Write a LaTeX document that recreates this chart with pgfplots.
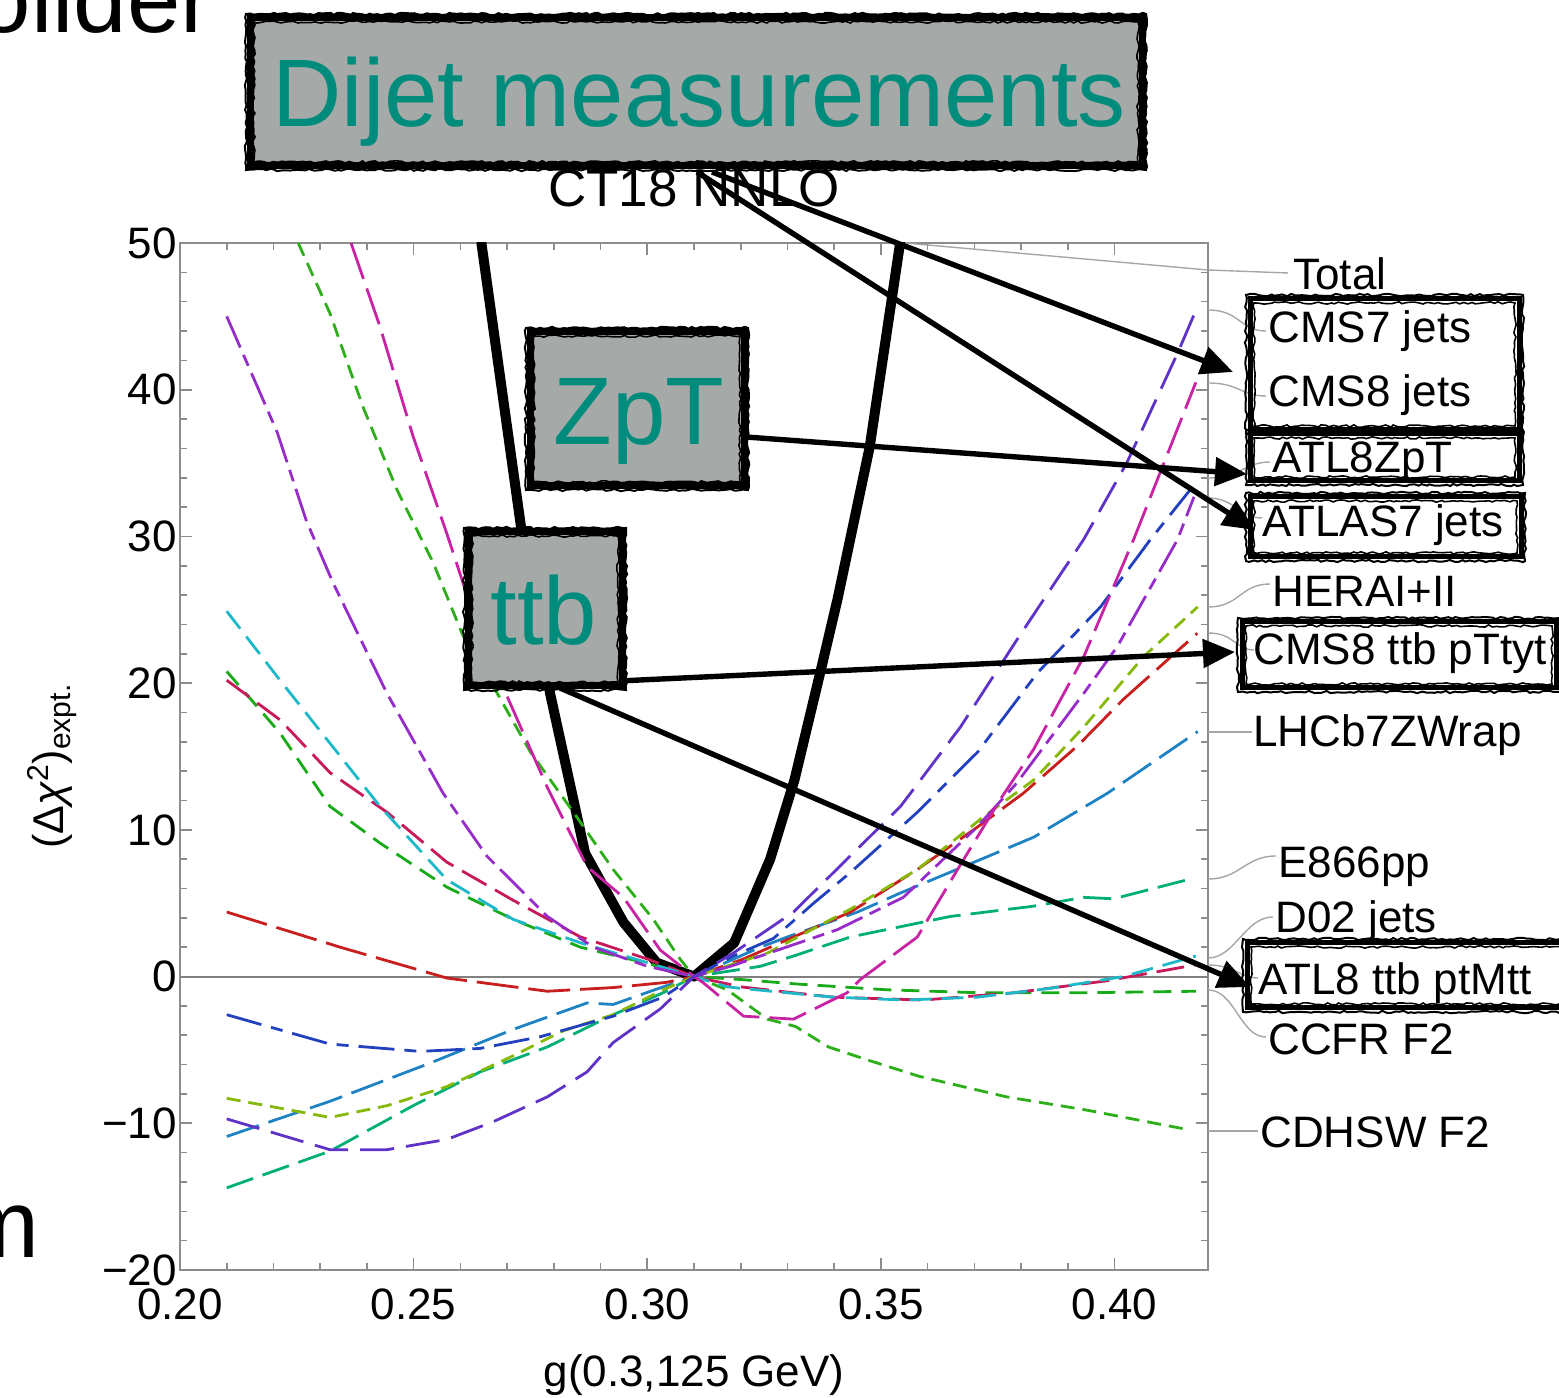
\documentclass[border=0pt]{standalone}
\usepackage{pgfplots}
\pgfplotsset{compat=1.18}
\usepackage{fontspec}
\setmainfont{Liberation Sans}
\usetikzlibrary{arrows.meta,decorations.pathmorphing}
\definecolor{cCMSseven}{RGB}{95,50,200}
\definecolor{cCMSeight}{RGB}{200,35,165}
\definecolor{cATLZ}{RGB}{35,65,190}
\definecolor{cATLseven}{RGB}{150,45,200}
\definecolor{cHERA}{RGB}{135,185,10}
\definecolor{cCMSttb}{RGB}{200,30,30}
\definecolor{cLHCb}{RGB}{30,130,195}
\definecolor{cEsix}{RGB}{0,175,120}
\definecolor{cDzero}{RGB}{30,185,200}
\definecolor{cATLttb}{RGB}{200,25,90}
\definecolor{cCCFR}{RGB}{25,170,25}
\definecolor{cCDHSW}{RGB}{45,175,25}
\definecolor{boxgray}{RGB}{165,169,167}
\definecolor{tealtext}{RGB}{0,140,125}
\newcommand\lbl{\fontsize{22}{24}\selectfont}
\newcommand\bigfont{\fontsize{48}{52}\selectfont}
\newcommand\roughframe[5]{%
 \draw[line width=#5] (#1,#2) rectangle (#3,#4);
 \draw[line width=1pt,decorate,decoration={random steps,segment length=2pt,amplitude=0.6pt}] ({#1-4},{#2-4}) rectangle ({#3+4},{#4+4});
 \draw[line width=0.8pt,decorate,decoration={random steps,segment length=2pt,amplitude=0.6pt}] ({#1+4},{#2+4}) rectangle ({#3-4},{#4-4});
}
\begin{document}
\begin{tikzpicture}
\useasboundingbox (0,0) rectangle (779.5pt,699pt);
\begin{axis}[at={(90pt,64pt)},anchor=south west,scale only axis,width=514pt,height=513.5pt,
 xmin=0.2,xmax=0.42,ymin=-20,ymax=50,
 axis line style={draw=black!45,line width=1pt},
 xtick={0.2,0.25,0.3,0.35,0.4},xticklabels={0.20,0.25,0.30,0.35,0.40},
 ytick={-20,-10,0,10,20,30,40,50},yticklabels={−20,−10,0,10,20,30,40,50},
 minor x tick num=4,minor y tick num=4,
 tick align=inside,major tick length=6pt,minor tick length=3.5pt,
 every tick/.style={black!45,line width=0.8pt},
 tick label style={font=\lbl},
 xticklabel style={yshift=-6pt},
 yticklabel style={xshift=2pt},
 every axis plot/.append style={line width=1.4pt,line join=round},
]
\draw[black!50,line width=1pt] (axis cs:0.2,0) -- (axis cs:0.42,0);
% Total
\addplot[black,line width=5pt,line cap=round] coordinates {(0.2645,50)(0.273,30.6)(0.2792,19.3)(0.2867,8.4)(0.2949,3.7)(0.302,0.95)(0.31,0)(0.3186,2.3)(0.3263,8.0)(0.3315,13.4)(0.3373,21.1)(0.3407,25.7)(0.3476,36.1)(0.3542,50.2)};
% CDHSW F2
\addplot[cCDHSW,dash pattern=on 7pt off 4pt] coordinates {(0.2253,50)(0.2321,45.2)(0.2392,38.8)(0.2464,33.2)(0.2542,28.2)(0.2606,23.2)(0.2679,19.3)(0.275,15.3)(0.2842,11.2)(0.2927,7.3)(0.3013,3.9)(0.307,1.2)(0.31,0)(0.3171,-0.9)(0.3257,-2.9)(0.3317,-3.4)(0.3388,-4.8)(0.3473,-5.7)(0.3582,-6.8)(0.3769,-8.2)(0.394,-9.1)(0.4152,-10.4)};
% CCFR F2
\addplot[cCCFR,dash pattern=on 9pt off 5pt] coordinates {(0.21,20.8)(0.2214,16.6)(0.2321,11.6)(0.2428,9.1)(0.2571,6.1)(0.2713,3.9)(0.2857,2.0)(0.30,0.9)(0.31,0)(0.32,-0.2)(0.3317,-0.5)(0.3512,-0.9)(0.3707,-1.1)(0.394,-1.1)(0.4174,-1.0)};
% ATL8 ttb ptMtt
\addplot[cATLttb,dash pattern=on 14pt off 5pt] coordinates {(0.21,20.2)(0.2214,17.5)(0.2321,13.9)(0.2443,11.2)(0.2571,7.8)(0.2713,5.2)(0.2857,2.7)(0.30,1.2)(0.31,0)(0.32,-0.7)(0.3396,-1.4)(0.3591,-1.6)(0.3786,-1.1)(0.3981,-0.3)(0.4174,0.8)};
% D02 jets
\addplot[cDzero,dash pattern=on 11pt off 5pt] coordinates {(0.21,24.9)(0.2214,20.2)(0.2321,15.9)(0.2428,11.6)(0.2571,6.6)(0.2713,3.9)(0.2857,2.3)(0.30,0.95)(0.31,0)(0.3171,-0.7)(0.32,-0.8)(0.3396,-1.4)(0.3552,-1.6)(0.3707,-1.4)(0.3863,-0.8)(0.4019,0)(0.4174,1.4)};
% E866pp
\addplot[cEsix,dash pattern=on 14pt off 5pt] coordinates {(0.21,-14.4)(0.2321,-11.9)(0.2499,-8.8)(0.2642,-6.5)(0.2786,-4.8)(0.2927,-2.6)(0.3034,-1.1)(0.31,0)(0.3242,0.7)(0.3313,1.4)(0.3435,2.7)(0.3649,4.1)(0.3827,4.8)(0.3934,5.4)(0.3998,5.3)(0.4156,6.6)};
% LHCb7ZWrap
\addplot[cLHCb,dash pattern=on 17pt off 5pt] coordinates {(0.21,-10.9)(0.2321,-8.5)(0.2535,-5.9)(0.2713,-3.6)(0.2871,-1.8)(0.2927,-1.9)(0.3034,-0.7)(0.31,0)(0.3242,2.0)(0.33,2.7)(0.345,4.4)(0.3542,5.7)(0.3685,7.6)(0.3827,9.5)(0.3985,12.5)(0.4178,16.7)};
% CMS8 ttb pTtyt
\addplot[cCMSttb,dash pattern=on 21pt off 5pt] coordinates {(0.21,4.4)(0.2343,2.0)(0.2571,-0.1)(0.2786,-1.0)(0.2927,-0.75)(0.304,-0.4)(0.31,0)(0.3206,1.2)(0.3313,2.7)(0.3435,4.4)(0.3578,7.3)(0.3707,10.2)(0.3805,12.5)(0.392,15.7)(0.4019,18.9)(0.4177,23.4)};
% HERAI+II
\addplot[cHERA,dash pattern=on 7pt off 4pt] coordinates {(0.21,-8.3)(0.2321,-9.6)(0.2443,-8.8)(0.2571,-7.5)(0.2713,-5.4)(0.282,-3.7)(0.2927,-2.6)(0.3034,-0.9)(0.31,0)(0.3257,1.6)(0.3435,4.6)(0.3578,7.3)(0.372,10.9)(0.3827,13.4)(0.3934,17.0)(0.4062,21.8)(0.4178,25.2)};
% ATLAS7 jets
\addplot[cATLseven,dash pattern=on 17pt off 4pt on 6pt off 4pt] coordinates {(0.21,45)(0.2208,37.1)(0.227,31.1)(0.2328,26.8)(0.2443,19.3)(0.2563,12.5)(0.2657,8.2)(0.2786,4.1)(0.2885,2.0)(0.30,0.7)(0.31,0)(0.3178,0.7)(0.3297,2.0)(0.3407,3.2)(0.3548,5.4)(0.3706,10.2)(0.3791,13.2)(0.3934,19.3)(0.4006,22.5)(0.4135,29.8)(0.417,32.7)};
% ATL8ZpT
\addplot[cATLZ,dash pattern=on 18pt off 5pt on 6pt off 5pt] coordinates {(0.21,-2.6)(0.2321,-4.6)(0.2514,-5.1)(0.2642,-4.9)(0.2771,-4.1)(0.2927,-2.7)(0.3034,-1.4)(0.31,0)(0.3184,1.4)(0.327,2.6)(0.3356,5.0)(0.3435,7.1)(0.3578,11.2)(0.3707,15.3)(0.3835,20.7)(0.397,25.2)(0.4077,29.8)(0.417,33.5)};
% CMS8 jets
\addplot[cCMSeight,dash pattern=on 19pt off 5pt] coordinates {(0.2366,50)(0.2428,44.3)(0.2499,36.8)(0.2571,30.2)(0.2606,26.8)(0.27,19.1)(0.2786,12.9)(0.2871,7.5)(0.2949,5.4)(0.3028,1.8)(0.31,0)(0.3119,-0.4)(0.3206,-2.7)(0.3313,-2.9)(0.3428,-1.1)(0.3456,-0.2)(0.3578,2.7)(0.3664,7.3)(0.3756,12.1)(0.3827,15.5)(0.3934,21.8)(0.4041,29.8)(0.4174,40.5)};
% CMS7 jets
\addplot[cCMSseven,dash pattern=on 17pt off 6pt] coordinates {(0.21,-9.7)(0.2321,-11.8)(0.2443,-11.8)(0.2571,-11.1)(0.267,-9.9)(0.2786,-8.2)(0.2871,-6.5)(0.2927,-4.5)(0.3028,-2.2)(0.31,0)(0.3184,1.6)(0.3313,4.4)(0.3456,8.9)(0.3542,11.6)(0.367,17.0)(0.3792,23.0)(0.3934,29.8)(0.4026,35.0)(0.4135,42.5)(0.4174,45.4)};
\end{axis}
\begin{scope}[x=0.5pt,y=-0.5pt,yshift=699pt]
% slide fragments
\node[anchor=base east,inner sep=0,font=\bigfont] at (213,33) {olider};
\node[anchor=base east,inner sep=0,font=\bigfont] at (40,1258) {m};
% title and axis labels
\node[anchor=base,inner sep=0,font=\fontsize{26.5}{30}\selectfont] at (694,207) {CT18 NNLO};
\node[anchor=base,inner sep=0,font=\lbl] at (694,1387) {g(0.3,125 GeV)};
\node[rotate=90,inner sep=0,font=\fontsize{21.5}{24}\selectfont] at (52,766) {(Δ{\itshape χ}\textsuperscript{2})\textsubscript{expt.}};
% leader lines
\begin{scope}[black!35,line width=0.7pt]
\draw (905,243) -- (1208,270) -- (1288,273);
\draw (1208,310) .. controls (1240,310) and (1240,331) .. (1266,331);
\draw (1208,383) .. controls (1240,383) and (1240,396) .. (1266,396);
\draw (1208,478) .. controls (1240,478) and (1245,462) .. (1270,462);
\draw (1208,498) .. controls (1235,498) and (1240,518) .. (1262,518);
\draw (1208,607) .. controls (1240,607) and (1240,584) .. (1270,584);
\draw (1208,633) .. controls (1235,633) and (1235,650) .. (1254,650);
\draw (1208,732) -- (1252,732);
\draw (1208,879) .. controls (1240,879) and (1245,856) .. (1276,856);
\draw (1208,958) .. controls (1235,958) and (1245,917) .. (1273,917);
\draw (1208,965) .. controls (1235,965) and (1240,978) .. (1258,978);
\draw (1208,990) .. controls (1235,990) and (1240,1037) .. (1266,1037);
\draw (1208,1131) -- (1258,1131);
\end{scope}
% right labels
\begin{scope}[every node/.style={anchor=base west,inner sep=0,font=\lbl}]
\node at (1293,290) {Total};
\node at (1268,343) {CMS7 jets};
\node at (1268,407) {CMS8 jets};
\node at (1272,473) {ATL8ZpT};
\node at (1262,537) {ATLAS7 jets};
\node at (1272,607) {HERAI+II};
\node at (1253,665) {CMS8 ttb pTtyt};
\node at (1253,747) {LHCb7ZWrap};
\node at (1278,878) {E866pp};
\node at (1275,933) {D02 jets};
\node at (1258,995) {ATL8 ttb ptMtt};
\node at (1268,1055) {CCFR F2};
\node at (1260,1148) {CDHSW F2};
\end{scope}
% label frames
\roughframe{1250}{299}{1519}{430}{2.5pt}
\roughframe{1250}{434}{1519}{481}{2.5pt}
\roughframe{1250}{497}{1521}{557}{2.5pt}
\roughframe{1242}{622}{1556}{688}{2.5pt}
\roughframe{1247}{943}{1570}{1008}{2.5pt}
% arrows
\begin{scope}[line width=2.7pt,-{Triangle[length=16pt,width=14pt]}]
\draw (712,172) -- (1233,372);
\draw (697,172) -- (1255,530);
\draw (746,437) -- (1247,474);
\draw (555,684) -- (1235,652);
\draw (560,688) -- (1250,987);
\end{scope}
% grey callout boxes
\fill[boxgray] (250,18) rectangle (1142,166);
\roughframe{250}{18}{1142}{166}{3.5pt}
\node[anchor=base west,inner sep=0,font=\bigfont,text=tealtext] at (272,127) {Dijet measurements};
\fill[boxgray] (530,332) rectangle (744,486);
\roughframe{530}{332}{744}{486}{3.5pt}
\node[anchor=base west,inner sep=0,font=\bigfont,text=tealtext] at (553,445) {ZpT};
\fill[boxgray] (468,532) rectangle (622,686);
\roughframe{468}{532}{622}{686}{3.5pt}
\node[anchor=base west,inner sep=0,font=\bigfont,text=tealtext] at (490,645) {ttb};
\end{scope}
\end{tikzpicture}
\end{document}
